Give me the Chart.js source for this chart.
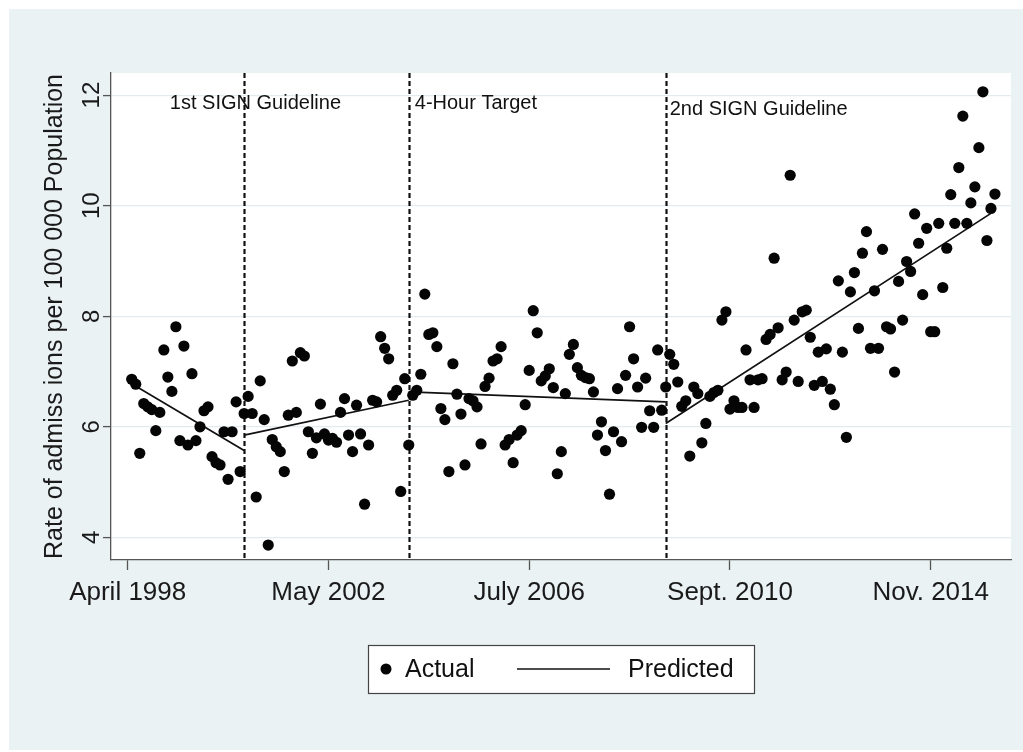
<!DOCTYPE html>
<html><head><meta charset="utf-8">
<script src="https://cdn.jsdelivr.net/npm/chart.js@4"></script>
<style>
html,body{margin:0;padding:0;background:#fff;}
#wrap{position:absolute;left:0;top:0;width:1023px;height:752px;}
</style></head><body>
<div id="wrap"><canvas id="c" width="1023" height="752"></canvas></div>
<script>
const FONT = "'Liberation Sans', Arial, Helvetica, sans-serif";

// Monthly observations, month index 1 = May 1998 (April 1998 = 0)
const firstMonth = 1;
const actualValues = [
  6.86,6.77,5.52,6.42,6.36,6.31,5.93,6.26,7.39,6.90,6.64,7.81,5.75,7.46,5.67,6.96,5.75,6.00,6.29,6.36,
  5.46,5.35,5.31,5.91,5.05,5.91,6.45,5.19,6.24,6.55,6.24,4.73,6.83,6.13,3.86,
  5.77,5.64,5.55,5.19,6.21,7.19,6.26,7.34,7.28,5.91,5.52,5.80,6.41,5.87,5.76,5.79,5.72,6.26,6.51,5.85,
  5.55,6.39,5.87,4.60,5.67,6.48,6.45,7.63,7.42,7.23,6.57,6.66,4.83,6.87,5.67,6.57,
  6.66,6.95,8.40,7.67,7.70,7.45,6.33,6.13,5.19,7.14,6.59,6.23,5.31,6.51,6.47,6.36,5.69,6.73,6.88,7.19,
  7.23,7.45,5.67,5.77,5.35,5.85,5.93,6.40,7.02,8.10,7.70,6.83,6.92,7.05,6.71,5.15,5.55,
  6.60,7.31,7.49,7.07,6.93,6.89,6.87,6.63,5.85,6.09,5.57,4.78,5.91,6.69,5.73,6.93,7.81,7.23,6.72,5.99,
  6.88,6.29,5.99,7.39,6.30,6.72,7.31,7.13,6.81,6.37,6.47,5.47,6.72,6.60,5.71,6.06,
  6.55,6.62,6.66,7.93,8.08,6.32,6.47,6.35,6.35,7.39,6.85,6.35,6.85,6.87,7.58,7.67,9.05,7.79,6.85,6.99,
  10.55,7.93,6.82,8.08,8.11,7.62,6.75,7.35,6.82,7.41,6.68,6.40,8.64,7.35,5.81,8.44,
  8.79,7.78,9.14,9.53,7.42,8.46,7.42,9.21,7.81,7.77,6.99,8.63,7.93,8.99,8.81,9.85,9.32,8.39,9.59,7.72,
  7.72,9.68,8.52,9.23,10.20,9.68,10.69,11.62,9.68,10.05,10.34,11.05,12.06,9.37,9.95,10.21
];

// Predicted (segmented regression) line: segment start/end
const segStartMonth = [1, 29, 70, 134];
const segStartValue = [6.78, 5.85, 6.63, 6.06];
const segEndMonth   = [29, 70, 134, 215];
const segEndValue   = [5.57, 6.48, 6.45, 9.86];

// Axis ticks
const xTickMonths = [0, 50, 100, 150, 200];
const xTickLabels = ['April 1998', 'May 2002', 'July 2006', 'Sept. 2010', 'Nov. 2014'];
const yTicks = [4, 6, 8, 10, 12];

// Interventions
const interventionMonths = [29, 70, 134];
const interventionLabels = ['1st SIGN Guideline', '4-Hour Target', '2nd SIGN Guideline'];
const labelMonths = [10.5, 71.5, 135.0];
const labelValues = [11.85, 11.85, 11.74];

const seriesNames = ['Actual', 'Predicted'];
const yTitle = 'Rate of admiss ions per 100 000 Population';

const actualData = actualValues.map((v, i) => ({x: firstMonth + i, y: v}));
const predData = [];
segStartMonth.forEach((m, i) => {
  predData.push({x: m, y: segStartValue[i]});
  predData.push({x: segEndMonth[i], y: segEndValue[i]});
  if (i < segStartMonth.length - 1) predData.push({x: segEndMonth[i], y: null});
});

const bgPlugin = {
  id: 'bg',
  beforeDraw(chart) {
    const {ctx, chartArea: a} = chart;
    ctx.save();
    ctx.fillStyle = '#ffffff';
    ctx.fillRect(0, 0, chart.width, chart.height);
    ctx.fillStyle = '#eaf2f3';
    ctx.fillRect(9, 9, chart.width - 9, chart.height - 11);
    ctx.fillStyle = '#ffffff';
    ctx.fillRect(a.left, a.top, a.right - a.left, a.bottom - a.top);
    ctx.restore();
  }
};

const interventionPlugin = {
  id: 'interventions',
  beforeDatasetsDraw(chart) {
    const {ctx, chartArea: a, scales: {x, y}} = chart;
    ctx.save();
    ctx.strokeStyle = '#111';
    ctx.lineWidth = 2.2;
    ctx.setLineDash([5, 3]);
    interventionMonths.forEach(m => {
      const px = Math.round(x.getPixelForValue(m)) + 0.5;
      ctx.beginPath();
      ctx.moveTo(px, a.top);
      ctx.lineTo(px, a.bottom);
      ctx.stroke();
    });
    ctx.setLineDash([]);
    ctx.fillStyle = '#111';
    ctx.font = '20px ' + FONT;
    ctx.textAlign = 'left';
    ctx.textBaseline = 'middle';
    interventionLabels.forEach((t, i) => {
      ctx.fillText(t, x.getPixelForValue(labelMonths[i]), y.getPixelForValue(labelValues[i]));
    });
    ctx.restore();
  }
};

const legendPlugin = {
  id: 'boxLegend',
  afterDraw(chart) {
    const {ctx} = chart;
    const bx = 368, by = 645, bw = 386, bh = 48, cy = by + bh / 2;
    ctx.save();
    ctx.fillStyle = '#ffffff';
    ctx.fillRect(bx, by, bw, bh);
    ctx.strokeStyle = '#444';
    ctx.lineWidth = 1.2;
    ctx.strokeRect(bx + 0.5, by + 0.5, bw, bh);
    const ds = chart.data.datasets;
    ctx.fillStyle = ds[0].backgroundColor;
    ctx.beginPath();
    ctx.arc(bx + 18, cy, 5.5, 0, Math.PI * 2);
    ctx.fill();
    ctx.fillStyle = '#111';
    ctx.font = '25px ' + FONT;
    ctx.textAlign = 'left';
    ctx.textBaseline = 'middle';
    ctx.fillText(ds[0].label, bx + 37, cy + 1);
    ctx.strokeStyle = ds[1].borderColor;
    ctx.lineWidth = 1.6;
    ctx.beginPath();
    ctx.moveTo(bx + 149, cy);
    ctx.lineTo(bx + 242, cy);
    ctx.stroke();
    ctx.fillText(ds[1].label, bx + 260, cy + 1);
    ctx.restore();
  }
};

new Chart(document.getElementById('c'), {
  type: 'scatter',
  data: {
    datasets: [
      {
        label: seriesNames[0],
        data: actualData,
        backgroundColor: '#050505',
        borderWidth: 0,
        pointRadius: 5.6,
        pointBorderWidth: 0,
        showLine: false
      },
      {
        label: seriesNames[1],
        data: predData,
        showLine: true,
        spanGaps: false,
        borderColor: '#111',
        borderWidth: 1.7,
        pointRadius: 0,
        fill: false
      }
    ]
  },
  options: {
    responsive: false,
    devicePixelRatio: 1,
    animation: false,
    layout: {padding: {left: 0, right: 12, top: 73, bottom: 0}},
    plugins: {legend: {display: false}, tooltip: {enabled: false}},
    scales: {
      x: {
        type: 'linear',
        min: -4.16,
        max: 220,
        afterBuildTicks: s => { s.ticks = xTickMonths.map(v => ({value: v})); },
        afterFit: s => { s.height = 192; },
        ticks: {
          callback: v => xTickLabels[xTickMonths.indexOf(v)],
          font: {family: FONT, size: 26},
          color: '#1a1a1a',
          padding: 7,
          maxRotation: 0,
          minRotation: 0,
          autoSkip: false
        },
        grid: {drawOnChartArea: false, drawTicks: true, tickLength: 10, tickColor: '#555', tickWidth: 1.3},
        border: {display: true, color: '#555', width: 1.3}
      },
      y: {
        type: 'linear',
        min: 3.59,
        max: 12.4,
        afterBuildTicks: s => { s.ticks = yTicks.map(v => ({value: v})); },
        afterFit: s => { s.width = 111; },
        ticks: {
          font: {family: FONT, size: 24},
          color: '#1a1a1a',
          minRotation: 90,
          maxRotation: 90,
          crossAlign: 'center',
          padding: -3
        },
        grid: {color: '#e2ecef', lineWidth: 1.2, drawTicks: true, tickLength: 8, tickColor: '#555', tickWidth: 1.3},
        border: {display: true, color: '#555', width: 1.3},
        title: {
          display: true,
          text: yTitle,
          font: {family: FONT, size: 25},
          color: '#1a1a1a',
          padding: {top: 40, bottom: 0}
        }
      }
    }
  },
  plugins: [bgPlugin, interventionPlugin, legendPlugin]
});
</script>
</body></html>
